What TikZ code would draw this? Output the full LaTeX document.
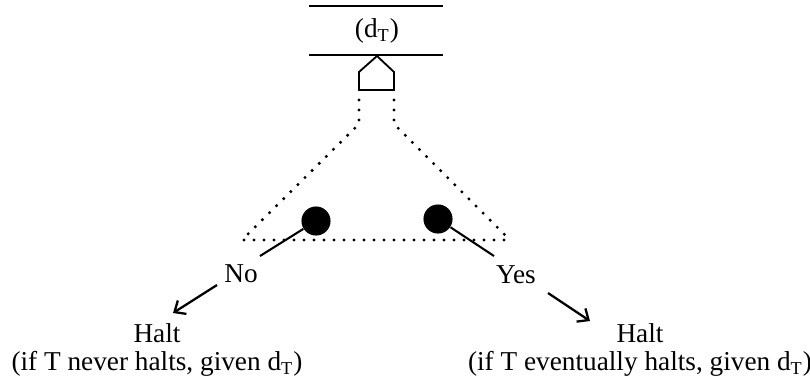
\documentclass[tikz,border=0pt]{standalone}
\usepackage{fontspec}
\setmainfont{Liberation Serif}
\usetikzlibrary{positioning,arrows.meta}

\begin{document}
\begin{tikzpicture}[x=0.44pt,y=-0.44pt,
	txt/.style={font=\fontsize{12}{12}\selectfont, inner sep=1pt, align=center},
	dots/.style={line width=1.5pt, line cap=round, dash pattern=on 0pt off 4.4pt},
	ball/.style={circle, fill, inner sep=0pt, minimum size=12.8pt},
	leads/.style={-{Straight Barb[length=4pt,width=7pt]}, line width=1pt}]
			\useasboundingbox (0,0) rectangle (810,386);
			% the tape with its symbol
			\draw[line width=0.9pt] (309,6) -- (443,6);
			\draw[line width=0.9pt] (309,55) -- (443,55);
			\node[txt] (tape) at (377,31) {(d\textsubscript{T})};
			% the reading head
			\draw[line width=0.8pt] (377,56) -- (394,72) -- (394,90) -- (359,90) -- (359,72) -- cycle;
			% the machine, seen through the head
			\draw[dots] (359,100) -- (359,124) -- (248,234);
			\draw[dots] (394,100) -- (394,124) -- (506,236);
			\draw[dots] (244,240) -- (506,240);
			% the two outcomes
			\node[ball] (lball) at (316,221) {};
			\node[ball] (rball) at (438,219) {};
			\coordinate (lend) at (260,256);
			\coordinate (rend) at (494,256);
			\draw[line width=0.9pt] (lball) -- (lend);
			\draw[line width=0.9pt] (rball) -- (rend);
			\node[txt] (no) at (241,274) {No};
			\node[txt] (yes) at (516,275) {Yes};
			% where each one leads
			\node[txt] (lhalt) at (157,350) {Halt\\(if T never halts, given d\textsubscript{T})};
			\node[txt] (rhalt) at (640,350) {Halt\\(if T eventually halts, given d\textsubscript{T})};
			\coordinate (lfrom) at (217,285);
			\coordinate (lto) at (173,313);
			\coordinate (rfrom) at (548,293);
			\coordinate (rto) at (590,321);
			\draw[leads] (lfrom) -- (lto);
			\draw[leads] (rfrom) -- (rto);
\end{tikzpicture}
\end{document}
